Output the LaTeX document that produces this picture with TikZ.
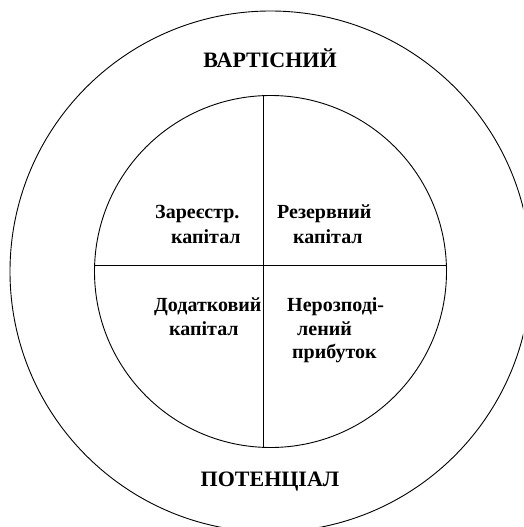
\documentclass[tikz,border=0pt]{standalone}
\usepackage{fontspec}
\setmainfont{Liberation Serif}
\begin{document}
\begin{tikzpicture}[x=1pt,y=-1pt,
  ring/.style={line width=0.9pt},
  divider/.style={line width=0.9pt},
  big/.style={font=\bfseries\fontsize{22}{26}\selectfont, inner sep=0pt},
  lbl/.style={font=\bfseries\fontsize{20}{24}\selectfont, inner sep=0pt, anchor=base west}]
\useasboundingbox (0,0) rectangle (523,527);
\clip (0,0) rectangle (523,527);
\coordinate (c) at (270.5,271.5);
\draw[ring] (c) circle[radius=260.5];
\draw[ring] (c) circle[radius=176];
\coordinate (vtop) at (263,95.7);
\coordinate (vbot) at (263,447.3);
\coordinate (hleft) at (94.6,265);
\coordinate (hright) at (446.4,265);
\draw[divider] (vtop) -- (vbot);
\draw[divider] (hleft) -- (hright);
\node[big, anchor=base] (t1) at (270,67) {ВАРТІСНИЙ};
\node[big, anchor=base] (t2) at (270,486) {ПОТЕНЦІАЛ};
\node[lbl] (a1) at (155,218) {Зареєстр.};
\node[lbl] (a2) at (171,243) {капітал};
\node[lbl] (b1) at (277,218) {Резервний};
\node[lbl] (b2) at (293,243) {капітал};
\node[lbl] (c1) at (154,311) {Додатковий};
\node[lbl] (c2) at (169,335) {капітал};
\node[lbl] (d1) at (287,311) {Нерозподі-};
\node[lbl] (d2) at (297,335) {лений};
\node[lbl] (d3) at (292,358) {прибуток};
\end{tikzpicture}
\end{document}
